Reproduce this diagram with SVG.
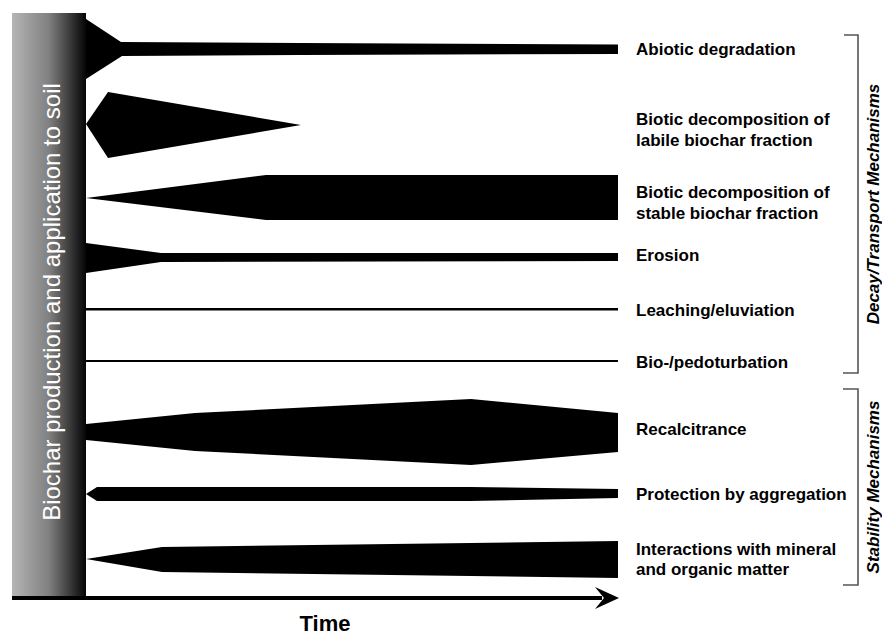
<svg xmlns="http://www.w3.org/2000/svg" width="882" height="635" viewBox="0 0 882 635">
<defs>
<linearGradient id="barGrad" x1="0" y1="0" x2="1" y2="0">
<stop offset="0" stop-color="#b5b5b5"/>
<stop offset="0.5" stop-color="#808080"/>
<stop offset="1" stop-color="#050505"/>
</linearGradient>
</defs>
<style>
.shape{fill:#000;stroke:none}
.lbl{font-family:"Liberation Sans",Arial,sans-serif;font-weight:bold;font-size:17px;fill:#000}
.grp{font-family:"Liberation Sans",Arial,sans-serif;font-weight:bold;font-style:italic;font-size:17px;fill:#000}
.brk{fill:none;stroke:#555;stroke-width:1.6}
</style>
<rect width="882" height="635" fill="#fff"/>
<g id="source">
<rect x="12" y="13" width="74" height="584" fill="url(#barGrad)"/>
<text x="60" y="302" transform="rotate(-90 60 302)" text-anchor="middle" font-family="Liberation Sans, Arial, sans-serif" font-size="24" fill="#fff">Biochar production and application to soil</text>
</g>
<g id="connectors">
<polygon id="abiotic" class="shape" points="86,19 121,42 300,43 618,44.5 618,54 300,55 122,56 86,79"/>
<polygon id="labile" class="shape" points="86,124 108,92 301,125 108,158"/>
<polygon id="stable" class="shape" points="86,198 266,175 618,175 618,220 266,220"/>
<polygon id="erosion" class="shape" points="86,243 161,253 618,253 618,261 161,262 86,273"/>
<rect id="leaching" class="shape" x="86" y="308" width="532" height="2.5"/>
<rect id="bioturb" class="shape" x="86" y="360" width="532" height="2"/>
<polygon id="recalc" class="shape" points="86,424 195,413 471,399 618,413 618,452 471,465 195,451 86,440"/>
<polygon id="aggreg" class="shape" points="86,494 97,487 470,487 618,489 618,498 470,501 97,501"/>
<polygon id="mineral" class="shape" points="86,559 162,547 618,541 618,578 162,572"/>
<rect id="axis" class="shape" x="12" y="596" width="590" height="4"/>
<polygon id="axisHead" class="shape" points="595,587 619,598 595,609 604,598"/>
</g>
<g id="time-label">
<text x="325" y="631" text-anchor="middle" font-family="Liberation Sans, Arial, sans-serif" font-weight="bold" font-size="22">Time</text>
</g>
<g id="labels">
<text class="lbl" x="636" y="55">Abiotic degradation</text>
<text class="lbl" x="636" y="125">Biotic decomposition of</text>
<text class="lbl" x="636" y="146">labile biochar fraction</text>
<text class="lbl" x="636" y="198">Biotic decomposition of</text>
<text class="lbl" x="636" y="219">stable biochar fraction</text>
<text class="lbl" x="636" y="261">Erosion</text>
<text class="lbl" x="636" y="316">Leaching/eluviation</text>
<text class="lbl" x="636" y="368">Bio-/pedoturbation</text>
<text class="lbl" x="636" y="435">Recalcitrance</text>
<text class="lbl" x="636" y="500">Protection by aggregation</text>
<text class="lbl" x="636" y="555">Interactions with mineral</text>
<text class="lbl" x="636" y="575">and organic matter</text>
</g>
<g id="decay-group">
<polyline class="brk" points="844,35 858,35 858,373 843,373"/>
<text class="grp" x="879" y="204" transform="rotate(-90 879 204)" text-anchor="middle">Decay/Transport Mechanisms</text>
</g>
<g id="stability-group">
<polyline class="brk" points="843,389 858,389 858,585 843,585"/>
<text class="grp" x="879" y="487" transform="rotate(-90 879 487)" text-anchor="middle">Stability Mechanisms</text>
</g>
</svg>
